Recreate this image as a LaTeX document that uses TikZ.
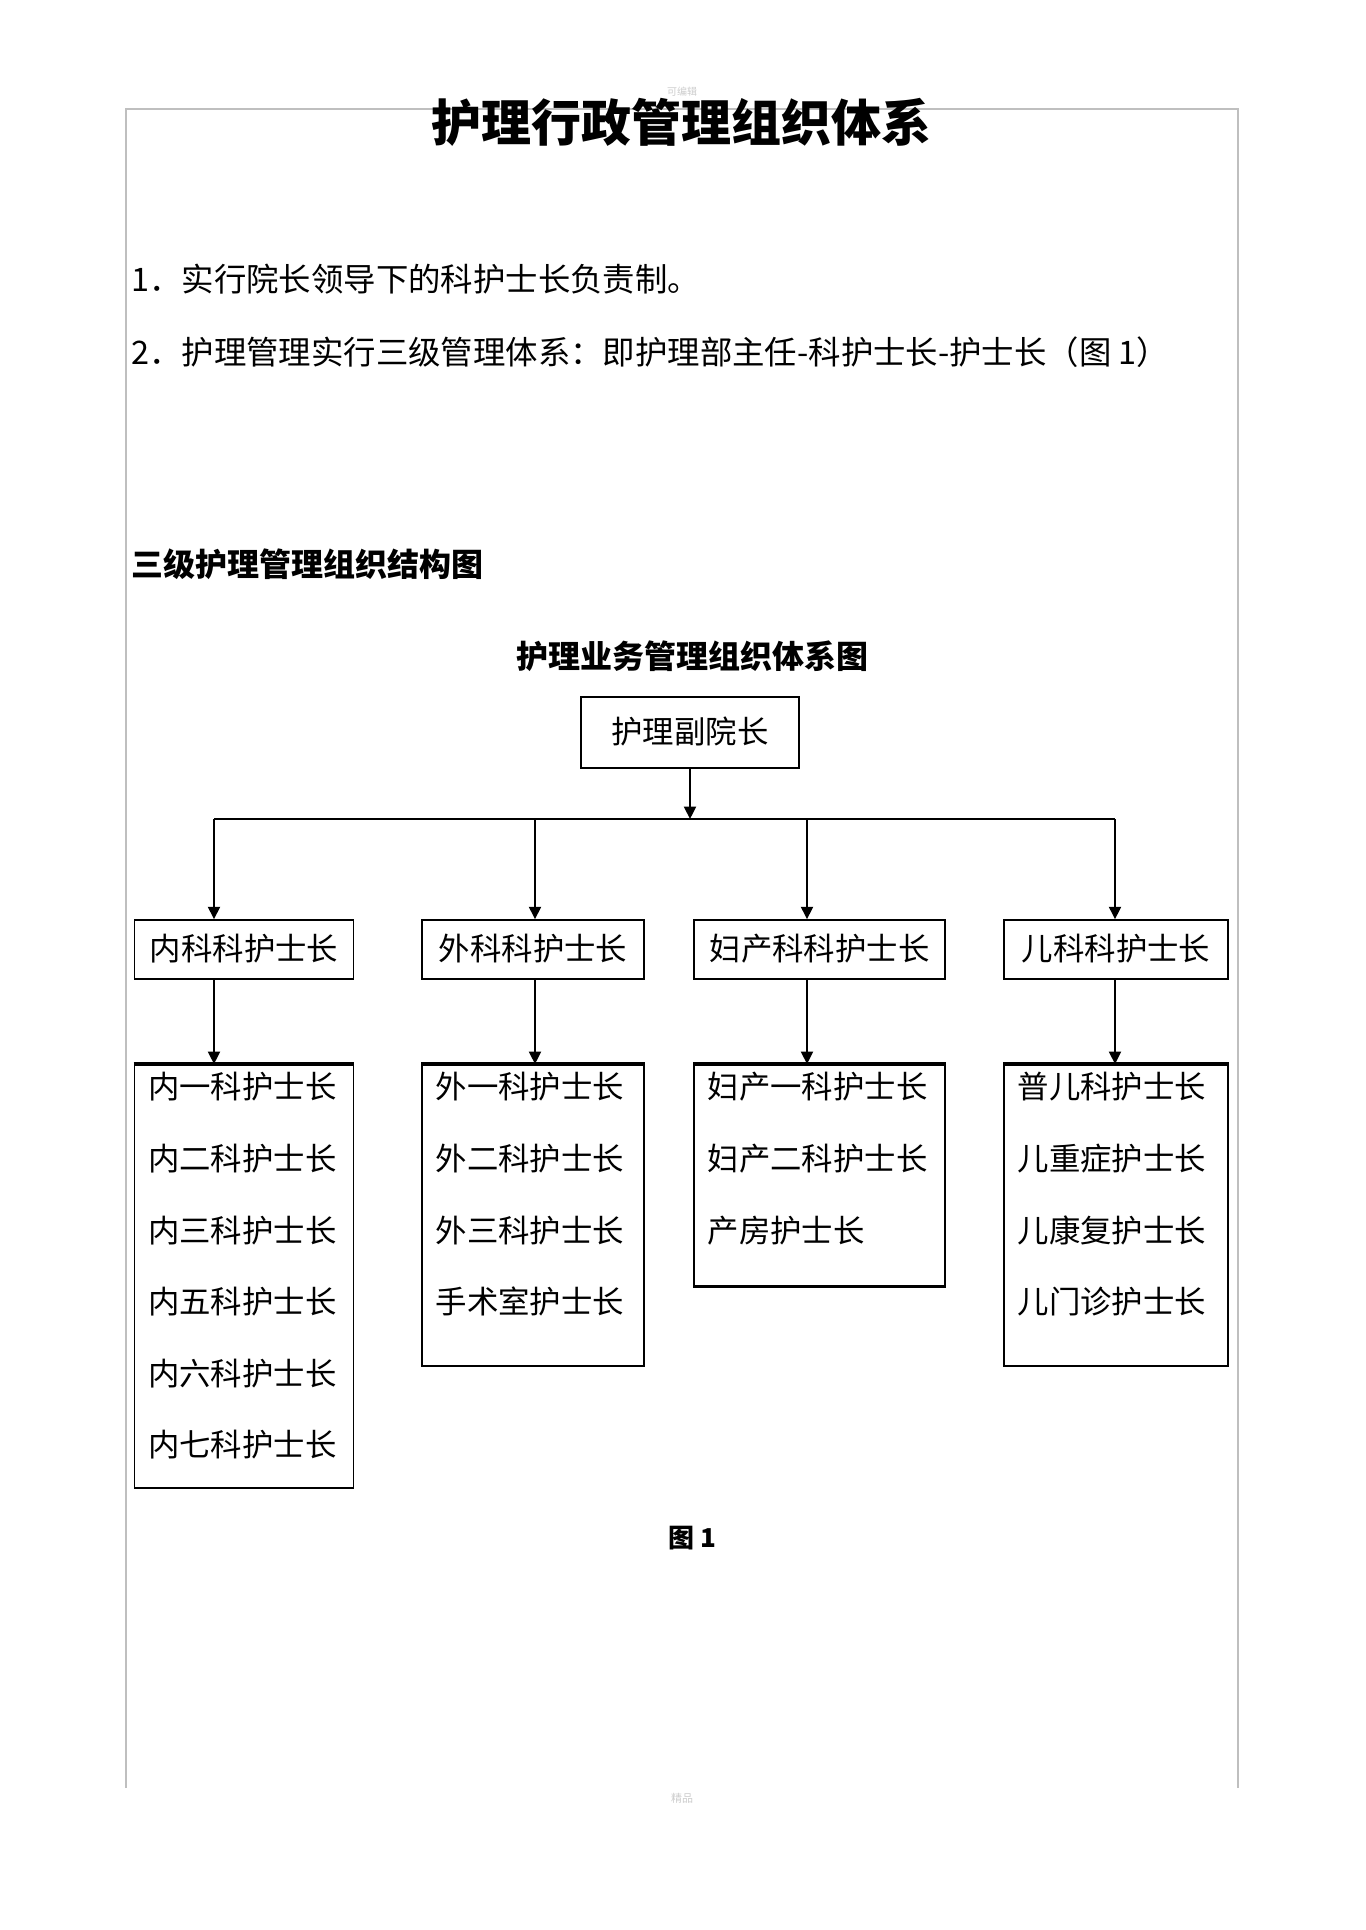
\documentclass[tikz,border=0pt]{standalone}
\usepackage{fontspec}
\setmainfont{Noto Sans CJK SC}
\usetikzlibrary{arrows.meta,positioning,calc}

\tikzset{
  box/.style={draw,line width=0.8pt,inner sep=0pt,font=\fontsize{15.7}{18}\selectfont},
  listtext/.style={anchor=north west,align=left,inner xsep=7pt,inner ysep=4pt,font=\fontsize{15.7}{35.8}\selectfont},
  arr/.style={line width=1pt,-{Triangle[length=6.2pt,width=6pt]}},
  pageframe/.style={draw=black!25,line width=1pt},
  heavy/.style={line width=1.7pt}
}
\newcommand{\up}[1]{\raisebox{2.5pt}{#1}}

\begin{document}
\begin{tikzpicture}[x=0.5pt,y=-0.5pt]
  \useasboundingbox (0,0) rectangle (1365,1930);
  % page frame and marks
  \draw[pageframe] (126,1788) -- (126,109) -- (1238,109) -- (1238,1788);
  \node[text=black!20,font=\fontsize{5}{5}\selectfont] (mtop) at (682,92) {可编辑};
  \node[text=black!20,font=\fontsize{5.5}{5.5}\selectfont] (mbot) at (682,1798) {精品};
  % texts
  \node[font=\fontsize{25}{25}\selectfont\bfseries] (title) at (681,122) {护理行政管理组织体系};
  \node[anchor=west,inner sep=0pt,font=\fontsize{16.2}{16}\selectfont] (item1) at (131,279) {1．实行院长领导下的科护士长负责制。};
  \node[anchor=west,inner sep=0pt,font=\fontsize{16.2}{16}\selectfont] (item2) at (131,352) {2．护理管理实行三级管理体系：即护理部主任-科护士长-护士长（图 1）};
  \node[anchor=west,inner sep=0pt,font=\fontsize{16}{16}\selectfont\bfseries] (sub) at (131,564) {三级护理管理组织结构图};
  \node[font=\fontsize{16}{16}\selectfont\bfseries] (cap) at (692,656) {护理业务管理组织体系图};
  % level 1
  \node[box,minimum width=109pt,minimum height=35.5pt] (fyz) at (690,732.5) {\up{护理副院长}};
  \coordinate (b1) at (214,819);
  \coordinate (b2) at (535,819);
  \coordinate (b3) at (807,819);
  \coordinate (b4) at (1115,819);
  \draw[line width=1pt] (b1) -- (b4);
  \draw[arr] (fyz.south) -- (fyz.south |- b1);
  % level 2
  \node[box,minimum width=109.5pt,minimum height=29.5pt] (nk) at (244,949.5) {\up{内科科护士长}};
  \node[box,minimum width=111pt,minimum height=29.5pt] (wk) at (533,949.5) {\up{外科科护士长}};
  \node[box,minimum width=125.5pt,minimum height=29.5pt] (fk) at (819.5,949.5) {\up{妇产科科护士长}};
  \node[box,minimum width=112pt,minimum height=29.5pt] (ek) at (1116,949.5) {\up{儿科科护士长}};
  % level 3
  \node[box,anchor=north,minimum width=109.5pt,minimum height=211.5pt] (nl) at (244,1064) {};
  \node[box,anchor=north,minimum width=111pt,minimum height=150.5pt] (wl) at (533,1064) {};
  \node[box,anchor=north,minimum width=125.5pt,minimum height=110.5pt] (fl) at (819.5,1064) {};
  \node[box,anchor=north,minimum width=112pt,minimum height=150.5pt] (el) at (1116,1064) {};
  \draw[heavy] (nl.north west) -- (nl.north east);
  \draw[heavy] (wl.north west) -- (wl.north east);
  \draw[heavy] (fl.north west) -- (fl.north east);
  \draw[heavy] (el.north west) -- (el.north east);
  \draw[heavy] (fl.south west) -- (fl.south east);
  \node[listtext] (nt) at (nl.north west) {内一科护士长\\内二科护士长\\内三科护士长\\内五科护士长\\内六科护士长\\内七科护士长};
  \node[listtext] (wt) at (wl.north west) {外一科护士长\\外二科护士长\\外三科护士长\\手术室护士长};
  \node[listtext] (ft) at (fl.north west) {妇产一科护士长\\妇产二科护士长\\产房护士长};
  \node[listtext] (et) at (el.north west) {普儿科护士长\\儿重症护士长\\儿康复护士长\\儿门诊护士长};
  % arrows
  \draw[arr] (b1) -- (b1 |- nk.north);
  \draw[arr] (b2) -- (b2 |- wk.north);
  \draw[arr] (b3) -- (b3 |- fk.north);
  \draw[arr] (b4) -- (b4 |- ek.north);
  \draw[arr] (b1 |- nk.south) -- (b1 |- nl.north);
  \draw[arr] (b2 |- wk.south) -- (b2 |- wl.north);
  \draw[arr] (b3 |- fk.south) -- (b3 |- fl.north);
  \draw[arr] (b4 |- ek.south) -- (b4 |- el.north);
  \node[font=\fontsize{13}{13}\selectfont\bfseries] (fig) at (692,1538) {图 1};
\end{tikzpicture}
\end{document}
